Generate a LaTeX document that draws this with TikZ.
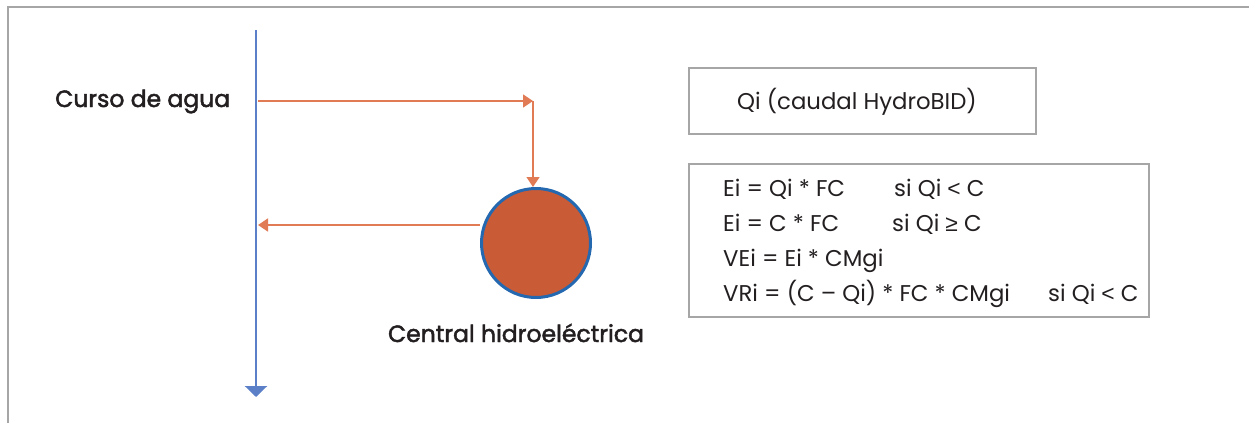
\documentclass[tikz,border=0pt]{standalone}
\usepackage{fontspec}
\setmainfont{Poppins}
\newfontfamily\labelfont{Poppins}[FakeBold=2]
\newfontfamily\symfont{Liberation Sans}
\usetikzlibrary{arrows.meta}
\definecolor{frame}{HTML}{A6A6A6}
\definecolor{river}{HTML}{5B80C8}
\definecolor{flow}{HTML}{E07B56}
\definecolor{plant}{HTML}{C95B36}
\definecolor{rim}{HTML}{2468B0}
\definecolor{ink}{HTML}{231F20}
\newcommand{\lessthan}{{\symfont <}}
\newcommand{\atleast}{{\symfont ≥}}
\tikzset{
  lbl/.style={font=\labelfont\fontsize{23.5}{27}\selectfont, text=ink, inner sep=0pt},
  eq/.style={font=\fontsize{22.8}{27}\selectfont, text=ink, inner sep=0pt, anchor=base west},
  panel/.style={draw=frame, line width=1.4pt},
  flowarrow/.style={draw=flow, line width=1.6pt, -{Triangle[length=10pt,width=13pt]}},
}
\begin{document}
\begin{tikzpicture}[x=1pt,y=-1pt]
  \useasboundingbox (0,0) rectangle (1249,423);
  % outer frame (top and left edges)
  \draw[frame, line width=1.5pt] (8,423) -- (8,7) -- (1249,7);

  % water course
  \coordinate (riverTop) at (256,30);
  \coordinate (riverEnd) at (256,397);
  \draw[river, line width=2.4pt, -{Triangle[length=11pt,width=22pt]}] (riverTop) -- (riverEnd);
  \node[lbl, anchor=base west] (curso) at (55,107) {Curso de agua};

  % power plant
  \node[circle, minimum size=109pt, inner sep=0pt, fill=plant, draw=rim, line width=3pt] (plant) at (536,243) {};
  \node[lbl, anchor=base] (plantlbl) at (516,342) {Central hidroeléctrica};

  % intake and return flows
  \coordinate (intake) at (258,101);
  \coordinate (bend) at (533,101);
  \coordinate (outlet) at (258,225);
  \draw[flowarrow] (intake) -- (bend);
  \draw[flowarrow, line width=1.3pt] (bend) -- (bend |- plant.north);
  \draw[flowarrow] (plant.west |- outlet) -- (outlet);

  % flow source box
  \draw[panel] (689,68) rectangle (1036,134);
  \node[eq] (qi) at (737,109) {Qi (caudal HydroBID)};

  % formulas box
  \draw[panel] (689,164) rectangle (1149,317);
  \node[eq] (e1) at (723,196) {Ei = Qi * FC};
  \node[eq] (c1) at (894,196) {si Qi \lessthan{} C};
  \node[eq] (e2) at (723,231) {Ei = C * FC};
  \node[eq] (c2) at (892,231) {si Qi \atleast{} C};
  \node[eq] (e3) at (723,266) {VEi = Ei * CMgi};
  \node[eq] (e4) at (723,301) {VRi = (C – Qi) * FC * CMgi};
  \node[eq] (c4) at (1048,301) {si Qi \lessthan{} C};
\end{tikzpicture}
\end{document}
